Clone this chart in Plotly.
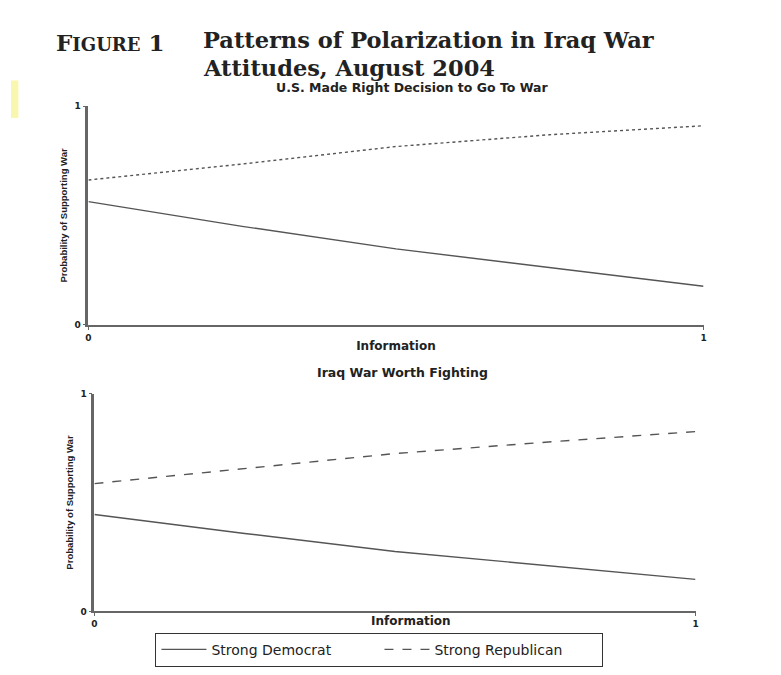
import plotly.graph_objects as go

# information level (x) and predicted probabilities
info = [0, 0.25, 0.5, 0.75, 1]

decision_dem = [0.563, 0.45, 0.347, 0.261, 0.176]
decision_rep = [0.662, 0.735, 0.815, 0.869, 0.91]

worth_dem = [0.445, 0.358, 0.275, 0.21, 0.147]
worth_rep = [0.587, 0.655, 0.725, 0.777, 0.826]

W, H = 765, 659


# screen pixel (from the reference) -> paper fraction, allowing for page offset
def px_x(x):
    return (x - 9.6) / 0.992 / W


def px_y(y):
    return 1 - (y - 11.5) / 0.986 / H


line_color = '#555555'
axis_color = '#666666'
sans = 'DejaVu Sans, sans-serif'
serif = 'DejaVu Serif, serif'

fig = go.Figure()

fig.add_trace(go.Scatter(x=info, y=decision_dem, mode='lines', xaxis='x', yaxis='y',
                         line=dict(color=line_color, width=1.4),
                         name='Strong Democrat', showlegend=False))
fig.add_trace(go.Scatter(x=info, y=decision_rep, mode='lines', xaxis='x', yaxis='y',
                         line=dict(color=line_color, width=1.4, dash='dot'),
                         name='Strong Republican', showlegend=False))

fig.add_trace(go.Scatter(x=info, y=worth_dem, mode='lines', xaxis='x2', yaxis='y2',
                         line=dict(color=line_color, width=1.4),
                         name='Strong Democrat'))
fig.add_trace(go.Scatter(x=info, y=worth_rep, mode='lines', xaxis='x2', yaxis='y2',
                         line=dict(color=line_color, width=1.4, dash='dash'),
                         name='Strong Republican'))

axis_common = dict(range=[0, 1], tickvals=[0, 1], ticktext=['<b>0</b>', '<b>1</b>'],
                   showgrid=False, zeroline=False, showline=True,
                   linecolor=axis_color, ticks='outside', ticklen=3,
                   tickcolor=axis_color, tickfont=dict(family=sans, size=9, color='#222'))

prob_title = dict(text='<b>Probability of Supporting War</b>', standoff=6,
                  font=dict(family='Arial, Liberation Sans, sans-serif', size=9.5, color='#222'))

fig.update_layout(
    width=W, height=H,
    margin=dict(l=0, r=0, t=0, b=0),
    plot_bgcolor='white', paper_bgcolor='white',
    xaxis=dict(axis_common, domain=[px_x(87), px_x(702)], anchor='y', linewidth=2,
               title=dict(text='<b>Information</b>', standoff=0,
                          font=dict(family=sans, size=12, color='#222'))),
    yaxis=dict(axis_common, domain=[px_y(328), px_y(106)], anchor='x', linewidth=2.5,
               title=prob_title),
    xaxis2=dict(axis_common, domain=[px_x(93), px_x(694)], anchor='y2', linewidth=2),
    yaxis2=dict(axis_common, domain=[px_y(619), px_y(398)], anchor='x2', linewidth=2.5,
                title=prob_title),
    legend=dict(orientation='h', x=px_x(378), y=px_y(658), xanchor='center', yanchor='middle',
                bordercolor='#333', borderwidth=1, bgcolor='white',
                entrywidth=163, itemwidth=45, tracegroupgap=0,
                font=dict(family=sans, size=14, color='#222')),
    annotations=[
        dict(text='<b>F<span style="font-size:18px">IGURE</span> 1</b>',
             x=px_x(53), y=px_y(41), xanchor='left', yanchor='middle',
             font=dict(family=serif, size=23, color='#222')),
        dict(text='<b>Patterns of Polarization in Iraq War</b>',
             x=px_x(200), y=px_y(39), xanchor='left', yanchor='middle',
             font=dict(family=serif, size=22.5, color='#222')),
        dict(text='<b>Attitudes, August 2004</b>',
             x=px_x(200), y=px_y(67), xanchor='left', yanchor='middle',
             font=dict(family=serif, size=22.5, color='#222')),
        dict(text='<b>U.S. Made Right Decision to Go To War</b>',
             x=px_x(411), y=px_y(87), xanchor='center', yanchor='middle',
             font=dict(family=sans, size=12.5, color='#222')),
        dict(text='<b>Iraq War Worth Fighting</b>',
             x=px_x(401), y=px_y(376), xanchor='center', yanchor='middle',
             font=dict(family=sans, size=12.5, color='#222')),
        # lower panel's axis title sits level with the tick labels in the original
        dict(text='<b>Information</b>',
             x=px_x(410), y=px_y(629), xanchor='center', yanchor='middle',
             font=dict(family=sans, size=12, color='#222')),
    ],
)
fig.update_annotations(xref='paper', yref='paper', showarrow=False)

# faint yellow scan smudge at the left edge
fig.add_shape(type='rect', xref='paper', yref='paper', x0=0, x1=px_x(17),
              y0=px_y(118), y1=px_y(80), fillcolor='#f5f27a',
              line=dict(width=0), opacity=0.6, layer='below')

fig.write_html("out.html")
